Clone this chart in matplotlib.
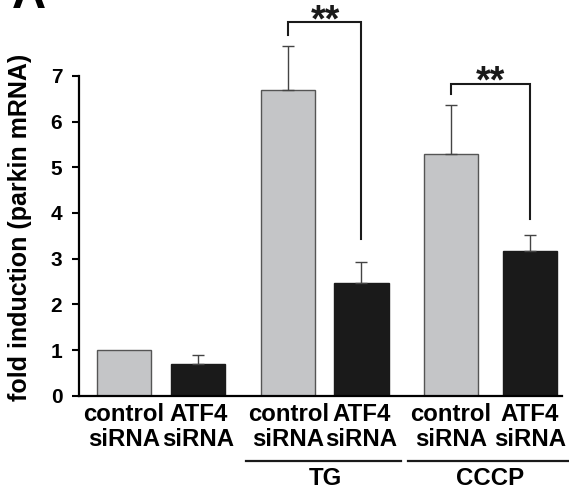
import numpy as np
import matplotlib
matplotlib.use("Agg")
import matplotlib.pyplot as plt
from matplotlib.transforms import blended_transform_factory

plt.rcParams['font.family'] = ['Liberation Sans', 'DejaVu Sans']
plt.rcParams['font.weight'] = 'bold'

labels = ['control\nsiRNA', 'ATF4\nsiRNA', 'control\nsiRNA', 'ATF4\nsiRNA', 'control\nsiRNA', 'ATF4\nsiRNA']
values = np.array([1.0, 0.69, 6.68, 2.47, 5.29, 3.17])
errors = np.array([0.0, 0.19, 0.97, 0.46, 1.07, 0.34])
colors = ['#c4c5c7', '#1a1a1a', '#c4c5c7', '#1a1a1a', '#c4c5c7', '#1a1a1a']
groups = ['TG', 'CCCP']
# (left bar, right bar, bracket height, left drop, right drop)
brackets = [(2, 3, 8.17, 7.90, 3.44), (4, 5, 6.83, 6.61, 3.87)]

xpos = np.array([0, 1, 2.21, 3.19, 4.39, 5.45])

fig = plt.figure(figsize=(5.69, 4.95), dpi=100)
ax = fig.add_axes([0.1388, 0.2006, 0.8489, 0.7994])

ax.bar(xpos, values, width=0.725, color=colors, edgecolor=['#555555', '#1a1a1a'] * 3,
       linewidth=1.0, zorder=2)
m = errors > 0
ax.errorbar(xpos[m], values[m], yerr=[np.zeros(m.sum()), errors[m]], fmt='none',
            ecolor='#444444', elinewidth=1.0, capsize=4, capthick=1.0, zorder=3)

for i, j, h, l, r in brackets:
    ax.plot([xpos[i], xpos[i], xpos[j], xpos[j]], [l, h, h, r], color='#1a1a1a',
            lw=1.5, solid_joinstyle='miter', clip_on=False)
    ax.text((xpos[i] + xpos[j]) / 2, h + 0.03, '**', ha='center', va='center',
            fontsize=27, fontweight='bold', color='#1a1a1a')

ax.set_xlim(-0.6, 5.88)
ax.set_ylim(0, 8.66)
ax.set_yticks(range(8))
ax.tick_params(axis='y', labelsize=15, width=1.5, length=5, direction='out', pad=7)
ax.set_xticks(xpos)
ax.set_xticklabels(labels, fontsize=17.3, fontweight='bold', linespacing=1.12)
ax.tick_params(axis='x', length=0, pad=5)
for lbl in ax.get_yticklabels():
    lbl.set_fontweight('bold')

ax.spines['top'].set_visible(False)
ax.spines['right'].set_visible(False)
ax.spines['left'].set_linewidth(1.6)
ax.spines['bottom'].set_linewidth(1.6)
ax.spines['left'].set_bounds(0, 7)

ax.set_ylabel('fold induction (parkin mRNA)', fontsize=18, fontweight='bold')
ax.yaxis.set_label_coords(-0.097, 0.426)

trans = blended_transform_factory(ax.transData, fig.transFigure)
for k, g in enumerate(groups):
    a, b = xpos[2 + 2 * k], xpos[3 + 2 * k]
    ax.plot([a - 0.57, b + 0.53], [0.069, 0.069], transform=trans, color='#1a1a1a',
            lw=1.6, clip_on=False)
    ax.text((a + b) / 2, 0.034, g, transform=trans, ha='center', va='center',
            fontsize=17.3, fontweight='bold')

fig.text(0.02, 1.008, 'A', fontsize=34, fontweight='bold', ha='left', va='center')

fig.savefig('out.png', dpi=100)
